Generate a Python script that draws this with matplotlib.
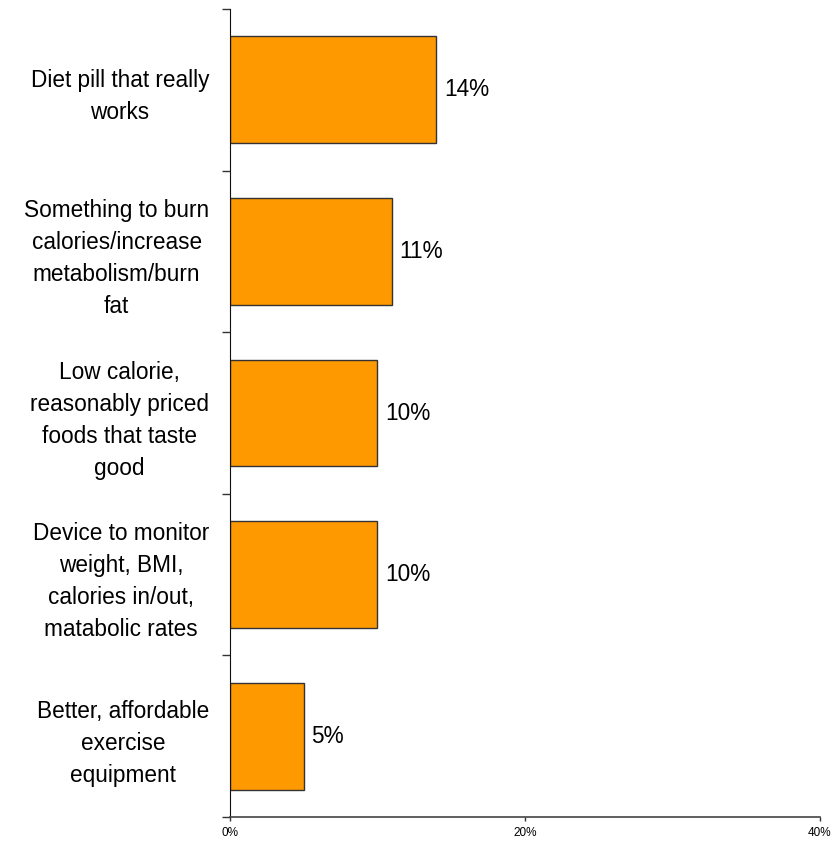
import matplotlib
matplotlib.use("Agg")
import matplotlib.pyplot as plt
from matplotlib.ticker import FixedLocator

plt.rcParams['font.family'] = ['Liberation Sans', 'DejaVu Sans']

# Data (top to bottom)
categories = [
    "Diet pill that really\nworks",
    "Something to burn\ncalories/increase\nmetabolism/burn\nfat",
    "Low calorie,\nreasonably priced\nfoods that taste\ngood",
    "Device to monitor\nweight, BMI,\ncalories in/out,\nmatabolic rates",
    "Better, affordable\nexercise\nequipment",
]
values = [14, 11, 10, 10, 5]
value_labels = ["14%", "11%", "10%", "10%", "5%"]
x_ticks = [0, 20, 40]
x_tick_labels = ["0%", "20%", "40%"]

fig = plt.figure(figsize=(8.35, 8.43), dpi=100)
ax = fig.add_axes([0.2754, 0.0308, 0.7066, 0.9585])

pos = list(range(len(categories)))
ax.barh(pos, values, height=0.66, color="#FF9900", edgecolor="#333333", linewidth=1.0)

for p, v, lab in zip(pos, values, value_labels):
    ax.text(v + 0.5, p, lab, va="center", ha="left", fontsize=16.3)

ax.set_xlim(0, 40)
ax.set_ylim(len(categories) - 0.5, -0.5)

ax.set_xticks(x_ticks)
ax.set_xticklabels(x_tick_labels, fontsize=8.5)
ax.tick_params(axis="x", length=3, width=1, color="#333333", pad=4)

ax.set_yticks(pos)
ax.set_yticklabels(categories, fontsize=16.3, linespacing=1.5)
for t in ax.get_yticklabels():
    t.set_multialignment("center")
ax.tick_params(axis="y", which="major", length=0, pad=15)
ax.yaxis.set_minor_locator(FixedLocator([i - 0.5 for i in range(len(categories) + 1)]))
ax.tick_params(axis="y", which="minor", length=6, width=1, color="#333333")

for s in ["top", "right"]:
    ax.spines[s].set_visible(False)
ax.spines["left"].set_color("#111111")
ax.spines["bottom"].set_color("#444444")
ax.spines["bottom"].set_linewidth(1.2)

fig.savefig("out.png", dpi=100)
